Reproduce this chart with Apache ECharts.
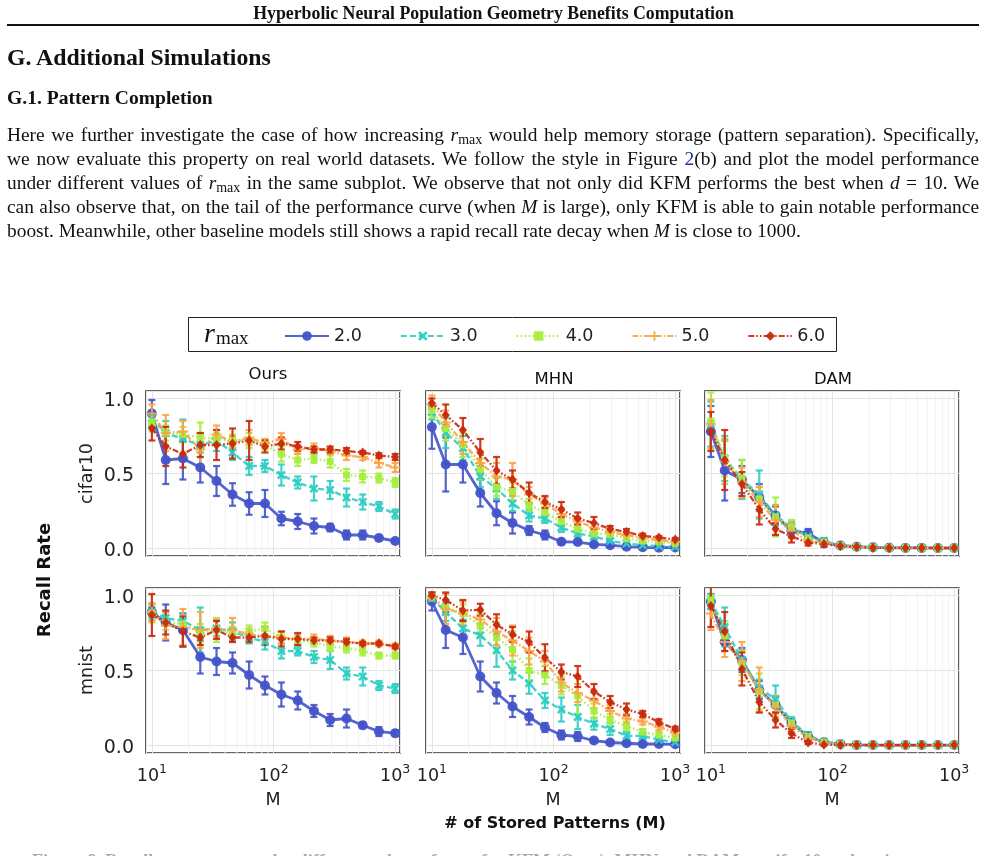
<!DOCTYPE html>
<html>
<head>
<meta charset="utf-8">
<script src="https://cdn.jsdelivr.net/npm/echarts@6/dist/echarts.min.js"></script>
<style>
  html, body { margin:0; padding:0; background:#fff; width:987px; height:856px; overflow:hidden; }
  #chart { position:absolute; left:0; top:0; width:987px; height:856px; }
  .t { position:absolute; font-family:"Liberation Serif","Times New Roman",serif; color:#111; z-index:2; }
  .hdr { left:0; width:987px; top:3px; text-align:center; font-weight:bold; font-size:17.8px; line-height:20px; }
  .rule { position:absolute; left:7px; width:972px; top:24px; height:2px; background:#111; z-index:2; }
  .h1 { left:7px; top:43px; font-weight:bold; font-size:23.8px; line-height:28px; }
  .h2 { left:7px; top:86px; font-weight:bold; font-size:19.6px; line-height:24px; }
  .p { left:7px; width:972px; font-size:19.4px; line-height:24px; text-align:justify; text-align-last:justify; }
  .p.last { text-align-last:left; }
  .p i { font-style:italic; }
  .p sub { font-size:0.72em; vertical-align:-0.25em; line-height:0; font-style:normal; }
  .blue { color:#1a2fa0; }
  .cap { left:32px; top:849px; font-size:18px; line-height:24px; color:#aaa; font-weight:bold; white-space:nowrap; }
</style>
</head>
<body>
<div class="t hdr">Hyperbolic Neural Population Geometry Benefits Computation</div>
<div class="rule"></div>
<div class="t h1">G. Additional Simulations</div>
<div class="t h2">G.1. Pattern Completion</div>
<div class="t p" style="top:123px">Here we further investigate the case of how increasing <i>r</i><sub>max</sub> would help memory storage (pattern separation). Specifically,</div>
<div class="t p" style="top:147px">we now evaluate this property on real world datasets. We follow the style in Figure <span class="blue">2</span>(b) and plot the model performance</div>
<div class="t p" style="top:171px">under different values of <i>r</i><sub>max</sub> in the same subplot. We observe that not only did KFM performs the best when <i>d</i> = 10. We</div>
<div class="t p" style="top:195px">can also observe that, on the tail of the performance curve (when <i>M</i> is large), only KFM is able to gain notable performance</div>
<div class="t p last" style="top:219px">boost. Meanwhile, other baseline models still shows a rapid recall rate decay when <i>M</i> is close to 1000.</div>
<div class="t cap">Figure 8. Recall rate curves under different values of r<sub>max</sub> for KFM (Ours), MHN and DAM on cifar10 and mnist.</div>
<div id="chart"></div>
<script>
// ---------------- data ----------------
const M = [10, 13, 18, 25, 34, 46, 63, 85, 116, 158, 215, 292, 398, 541, 735, 1000];
const rLabels = ['2.0', '3.0', '4.0', '5.0', '6.0'];
const modelTitles = ['Ours', 'MHN', 'DAM'];
const datasetNames = ['cifar10', 'mnist'];
const yTicks = [0.0, 0.5, 1.0];
const minorM = [20, 30, 40, 50, 60, 70, 80, 90, 200, 300, 400, 500, 600, 700, 800, 900];

// rows: r_max = 2.0, 3.0, 4.0, 5.0, 6.0
const oursCifar10 = [
  [0.90,0.59,0.60,0.54,0.45,0.36,0.30,0.30,0.20,0.18,0.15,0.14,0.09,0.09,0.07,0.05],
  [0.87,0.77,0.73,0.69,0.72,0.64,0.55,0.55,0.49,0.44,0.40,0.39,0.34,0.31,0.28,0.23],
  [0.84,0.77,0.76,0.74,0.73,0.72,0.72,0.69,0.63,0.59,0.60,0.58,0.49,0.48,0.47,0.44],
  [0.90,0.77,0.78,0.66,0.76,0.71,0.74,0.70,0.73,0.66,0.67,0.65,0.62,0.61,0.57,0.54],
  [0.80,0.68,0.63,0.69,0.69,0.70,0.72,0.68,0.70,0.68,0.66,0.66,0.65,0.64,0.62,0.61]
];
const oursCifar10Err = [
  [0.09,0.16,0.14,0.10,0.10,0.075,0.075,0.09,0.045,0.05,0.05,0.025,0.03,0.03,0.015,0.01],
  [0.05,0.08,0.13,0.08,0.07,0.05,0.06,0.04,0.07,0.04,0.08,0.06,0.06,0.05,0.03,0.03],
  [0.06,0.05,0.05,0.10,0.04,0.04,0.05,0.03,0.05,0.04,0.03,0.04,0.04,0.04,0.03,0.03],
  [0.06,0.12,0.07,0.10,0.06,0.04,0.05,0.03,0.04,0.03,0.03,0.02,0.03,0.02,0.03,0.03],
  [0.08,0.13,0.09,0.08,0.10,0.10,0.13,0.04,0.04,0.03,0.02,0.02,0.02,0.01,0.015,0.02]
];
const mhnCifar10 = [
  [0.81,0.56,0.56,0.37,0.235,0.17,0.12,0.09,0.045,0.043,0.027,0.022,0.012,0.008,0.005,0.007],
  [0.91,0.77,0.67,0.48,0.40,0.30,0.22,0.20,0.14,0.10,0.08,0.05,0.033,0.022,0.016,0.011],
  [0.92,0.80,0.69,0.53,0.41,0.38,0.29,0.24,0.18,0.13,0.10,0.096,0.067,0.051,0.044,0.033],
  [0.96,0.84,0.71,0.57,0.48,0.46,0.36,0.30,0.23,0.18,0.14,0.11,0.089,0.071,0.056,0.044],
  [0.97,0.89,0.79,0.64,0.52,0.46,0.37,0.31,0.26,0.20,0.17,0.13,0.11,0.084,0.073,0.06]
];
const mhnCifar10Err = [
  [0.145,0.18,0.12,0.09,0.08,0.07,0.03,0.03,0.015,0.01,0.01,0.01,0.01,0.01,0.01,0.01],
  [0.05,0.10,0.08,0.07,0.07,0.05,0.04,0.03,0.03,0.02,0.02,0.015,0.01,0.01,0.01,0.01],
  [0.05,0.08,0.08,0.07,0.06,0.06,0.04,0.04,0.03,0.03,0.02,0.02,0.015,0.01,0.01,0.01],
  [0.06,0.08,0.08,0.08,0.09,0.11,0.05,0.04,0.04,0.03,0.03,0.02,0.02,0.015,0.01,0.01],
  [0.03,0.07,0.08,0.09,0.09,0.06,0.07,0.04,0.05,0.04,0.04,0.02,0.02,0.015,0.01,0.01]
];
const damCifar10 = [
  [0.78,0.52,0.46,0.34,0.22,0.12,0.10,0.04,0.02,0.012,0.008,0.005,0.004,0.004,0.003,0.003],
  [0.83,0.60,0.46,0.36,0.22,0.14,0.08,0.05,0.02,0.012,0.008,0.005,0.004,0.004,0.003,0.003],
  [0.85,0.60,0.47,0.33,0.21,0.14,0.07,0.04,0.02,0.012,0.008,0.005,0.004,0.004,0.003,0.003],
  [0.83,0.58,0.44,0.31,0.19,0.12,0.05,0.04,0.02,0.010,0.006,0.005,0.004,0.004,0.003,0.003],
  [0.78,0.59,0.43,0.26,0.13,0.08,0.04,0.03,0.016,0.011,0.005,0.004,0.004,0.004,0.004,0.004]
];
const damCifar10Err = [
  [0.17,0.20,0.09,0.09,0.06,0.05,0.03,0.02,0.01,0.005,0.005,0.003,0.003,0.003,0.003,0.003],
  [0.15,0.15,0.13,0.16,0.07,0.04,0.02,0.02,0.01,0.005,0.005,0.003,0.003,0.003,0.003,0.003],
  [0.19,0.12,0.12,0.08,0.13,0.05,0.03,0.02,0.01,0.005,0.005,0.003,0.003,0.003,0.003,0.003],
  [0.16,0.15,0.10,0.10,0.10,0.05,0.02,0.02,0.01,0.005,0.005,0.003,0.003,0.003,0.003,0.003],
  [0.13,0.20,0.08,0.10,0.04,0.04,0.02,0.02,0.01,0.005,0.005,0.003,0.003,0.003,0.003,0.003]
];
const oursMnist = [
  [0.89,0.82,0.77,0.59,0.56,0.55,0.47,0.40,0.34,0.30,0.23,0.17,0.18,0.135,0.093,0.082],
  [0.89,0.85,0.83,0.77,0.78,0.76,0.72,0.69,0.63,0.63,0.59,0.57,0.48,0.46,0.40,0.38],
  [0.88,0.82,0.81,0.75,0.77,0.75,0.76,0.78,0.72,0.70,0.69,0.66,0.65,0.63,0.60,0.60],
  [0.89,0.80,0.79,0.77,0.78,0.77,0.74,0.73,0.72,0.71,0.71,0.70,0.69,0.68,0.68,0.66],
  [0.87,0.82,0.76,0.72,0.77,0.72,0.72,0.73,0.71,0.71,0.70,0.70,0.69,0.68,0.68,0.66]
];
const oursMnistErr = [
  [0.03,0.12,0.11,0.11,0.09,0.07,0.09,0.06,0.08,0.06,0.04,0.04,0.06,0.02,0.03,0.02],
  [0.05,0.04,0.05,0.15,0.05,0.06,0.04,0.05,0.05,0.03,0.04,0.06,0.04,0.06,0.03,0.03],
  [0.06,0.05,0.05,0.06,0.08,0.04,0.04,0.04,0.04,0.03,0.03,0.03,0.03,0.03,0.02,0.02],
  [0.06,0.09,0.12,0.12,0.06,0.08,0.04,0.04,0.04,0.03,0.03,0.03,0.03,0.02,0.02,0.02],
  [0.14,0.08,0.10,0.05,0.06,0.03,0.03,0.06,0.05,0.04,0.02,0.02,0.02,0.01,0.01,0.01]
];
const mhnMnist = [
  [0.96,0.77,0.72,0.46,0.35,0.26,0.19,0.12,0.07,0.06,0.033,0.02,0.015,0.01,0.01,0.008],
  [0.98,0.89,0.78,0.735,0.635,0.50,0.415,0.30,0.24,0.19,0.145,0.11,0.065,0.064,0.038,0.022],
  [0.99,0.92,0.88,0.80,0.72,0.64,0.50,0.47,0.40,0.33,0.23,0.17,0.13,0.09,0.07,0.05],
  [0.99,0.91,0.88,0.84,0.76,0.70,0.63,0.56,0.42,0.35,0.30,0.23,0.18,0.16,0.125,0.085],
  [1.00,0.97,0.90,0.905,0.805,0.74,0.69,0.585,0.49,0.46,0.36,0.29,0.24,0.21,0.155,0.11]
];
const mhnMnistErr = [
  [0.06,0.12,0.11,0.10,0.07,0.07,0.05,0.03,0.03,0.03,0.015,0.01,0.01,0.01,0.005,0.005],
  [0.03,0.06,0.06,0.07,0.11,0.06,0.07,0.05,0.08,0.08,0.04,0.04,0.03,0.02,0.02,0.015],
  [0.03,0.05,0.06,0.08,0.10,0.12,0.08,0.06,0.06,0.12,0.05,0.04,0.03,0.02,0.02,0.015],
  [0.03,0.10,0.08,0.06,0.09,0.10,0.09,0.07,0.06,0.06,0.05,0.04,0.03,0.02,0.02,0.015],
  [0.02,0.05,0.07,0.04,0.07,0.05,0.07,0.09,0.05,0.07,0.05,0.04,0.04,0.02,0.02,0.015]
];
const damMnist = [
  [0.96,0.69,0.57,0.37,0.27,0.15,0.06,0.022,0.009,0.004,0.003,0.003,0.003,0.003,0.003,0.003],
  [0.96,0.79,0.57,0.38,0.31,0.16,0.07,0.025,0.010,0.005,0.003,0.003,0.003,0.003,0.003,0.003],
  [0.97,0.73,0.55,0.36,0.27,0.15,0.06,0.020,0.008,0.004,0.003,0.003,0.003,0.003,0.003,0.003],
  [0.88,0.69,0.56,0.37,0.26,0.13,0.05,0.020,0.007,0.004,0.003,0.003,0.003,0.003,0.003,0.003],
  [0.93,0.76,0.51,0.29,0.17,0.08,0.02,0.005,0.003,0.003,0.003,0.003,0.003,0.003,0.003,0.003]
];
const damMnistErr = [
  [0.05,0.06,0.08,0.06,0.05,0.03,0.02,0.01,0.005,0.003,0.003,0.003,0.003,0.003,0.003,0.003],
  [0.05,0.13,0.07,0.06,0.09,0.03,0.02,0.01,0.005,0.003,0.003,0.003,0.003,0.003,0.003,0.003],
  [0.03,0.10,0.08,0.12,0.06,0.03,0.02,0.01,0.005,0.003,0.003,0.003,0.003,0.003,0.003,0.003],
  [0.11,0.10,0.13,0.15,0.07,0.04,0.02,0.01,0.005,0.003,0.003,0.003,0.003,0.003,0.003,0.003],
  [0.14,0.13,0.11,0.07,0.05,0.03,0.01,0.005,0.003,0.003,0.003,0.003,0.003,0.003,0.003,0.003]
];

// ---------------- layout & styles ----------------
const panels = [
  [oursCifar10, oursCifar10Err], [mhnCifar10, mhnCifar10Err], [damCifar10, damCifar10Err],
  [oursMnist, oursMnistErr], [mhnMnist, mhnMnistErr], [damMnist, damMnistErr]
];
const gridLefts = [146, 426, 705];
const gridTops = [391, 588];
const gridW = 254, gridH = 165;
const Y_MIN = -0.05, Y_MAX = 1.05;
const FONT = 'DejaVu Sans';
const xPath = 'path://M0,2 L2,0 L5,3 L8,0 L10,2 L7,5 L10,8 L8,10 L5,7 L2,10 L0,8 L3,5 Z';
const plusPath = 'path://M4,0 L6,0 L6,4 L10,4 L10,6 L6,6 L6,10 L4,10 L4,6 L0,6 L0,4 L4,4 Z';
const styles = [
  { color: '#4353c9', dash: 'solid', symbol: 'circle', size: 10, width: 2.8 },
  { color: '#2ecdc3', dash: [6, 3], symbol: xPath, size: 9, width: 2.3 },
  { color: '#a5ee3c', dash: [1.6, 2.4], symbol: 'rect', size: 7, width: 2.3 },
  { color: '#fca443', dash: [6, 2, 1.6, 2], symbol: plusPath, size: 10, width: 2.3 },
  { color: '#c9290d', dash: [6, 2, 1.6, 2, 1.6, 2], symbol: 'diamond', size: [8, 10], width: 2.3 }
];

function makeErr(color) {
  return function (params, api) {
    const x = api.value(0), y = api.value(1), e = api.value(2);
    const top = api.coord([x, y + e]);
    const bot = api.coord([x, y - e]);
    const cap = 3.5;
    const st = { stroke: color, lineWidth: 2.2, opacity: 0.9 };
    return {
      type: 'group',
      children: [
        { type: 'line', shape: { x1: top[0], y1: top[1], x2: bot[0], y2: bot[1] }, style: st },
        { type: 'line', shape: { x1: top[0] - cap, y1: top[1], x2: top[0] + cap, y2: top[1] }, style: st },
        { type: 'line', shape: { x1: bot[0] - cap, y1: bot[1], x2: bot[0] + cap, y2: bot[1] }, style: st }
      ]
    };
  };
}
function minorGrid(params, api) {
  const x = api.value(0);
  const a = api.coord([x, Y_MIN]);
  const b = api.coord([x, Y_MAX]);
  return { type: 'line', shape: { x1: a[0], y1: a[1], x2: b[0], y2: b[1] },
    style: { stroke: '#f2f2f2', lineWidth: 1 } };
}

const grids = [], xAxes = [], yAxes = [], series = [];
for (let r = 0; r < 2; r++) {
  for (let c = 0; c < 3; c++) {
    const g = r * 3 + c;
    grids.push({ left: gridLefts[c], top: gridTops[r], width: gridW, height: gridH,
      show: true, borderColor: '#333', borderWidth: 1.6, backgroundColor: 'transparent' });
    xAxes.push({
      gridIndex: g, type: 'log', logBase: 10, min: 8.95, max: 1095,
      axisLine: { show: false }, axisTick: { show: false }, minorTick: { show: false },
      splitLine: { show: true, lineStyle: { color: '#e4e4e4', width: 1 } },
      axisLabel: {
        show: r === 1, margin: 10, color: '#222',
        formatter: function (v) {
          const e = Math.log10(v);
          if (Math.abs(e - Math.round(e)) > 1e-6) return '';
          return '{b|10}{s|' + Math.round(e) + '}';
        },
        rich: {
          b: { fontFamily: FONT, fontSize: 17.5, color: '#222', verticalAlign: 'bottom', lineHeight: 22 },
          s: { fontFamily: FONT, fontSize: 12.5, color: '#222', verticalAlign: 'top', lineHeight: 22 }
        }
      },
      name: r === 1 ? 'M' : '', nameLocation: 'middle', nameGap: 38,
      nameTextStyle: { fontFamily: FONT, fontSize: 17.5, color: '#222' }
    });
    yAxes.push({
      gridIndex: g, type: 'value', min: Y_MIN, max: Y_MAX, splitNumber: 2,
      axisLine: { show: false }, axisTick: { show: false },
      splitLine: { show: true, lineStyle: { color: '#e4e4e4', width: 1 } },
      axisLabel: {
        show: c === 0, margin: 12, color: '#222',
        formatter: function (v) {
          for (const t of yTicks) if (Math.abs(v - t) < 1e-6) return '{v|' + t.toFixed(1) + '}';
          return '';
        },
        rich: { v: { fontFamily: FONT, fontSize: 19, color: '#222', padding: [6, 0, 0, 0] } }
      },
      name: c === 0 ? datasetNames[r] : '', nameLocation: 'middle', nameGap: 50,
      nameTextStyle: { fontFamily: FONT, fontSize: 17.5, color: '#222' }
    });
    // faint minor grid lines
    series.push({
      type: 'custom', name: 'minor', xAxisIndex: g, yAxisIndex: g, silent: true, z: 1,
      renderItem: minorGrid, encode: { x: 0 }, data: minorM.map(v => [v, 0.5])
    });
    const [means, errs] = panels[g];
    for (let k = 0; k < 5; k++) {
      const s = styles[k];
      series.push({
        type: 'custom', name: 'err' + k, xAxisIndex: g, yAxisIndex: g, z: 2, silent: true, clip: true,
        renderItem: makeErr(s.color),
        encode: { x: 0, y: 1 },
        data: M.map((m, j) => [m, means[k][j], errs[k][j]])
      });
      series.push({
        type: 'line', name: rLabels[k], xAxisIndex: g, yAxisIndex: g, z: 2,
        data: M.map((m, j) => [m, means[k][j]]),
        symbol: s.symbol, symbolSize: s.size, showSymbol: true,
        lineStyle: { color: s.color, width: s.width, type: s.dash, opacity: 0.9 },
        itemStyle: { color: s.color, opacity: 0.95 },
        emphasis: { disabled: true }
      });
    }
  }
}

const chart = echarts.init(document.getElementById('chart'), null, { renderer: 'canvas' });
chart.setOption({
  animation: false,
  backgroundColor: 'transparent',
  grid: grids, xAxis: xAxes, yAxis: yAxes, series: series,
  legend: {
    data: rLabels, left: 279, top: 322, itemWidth: 44, itemHeight: 12, itemGap: 38,
    textStyle: { fontFamily: FONT, fontSize: 17.5, color: '#222' },
    selectedMode: false
  },
  graphic: [
    { type: 'rect', z: 0, shape: { x: 188.5, y: 317.5, width: 648, height: 34 },
      style: { fill: '#fff', stroke: '#222', lineWidth: 1 } },
    { type: 'text', z: 10, x: 204, y: 334,
      style: { text: '{r|r}{m|max}', textVerticalAlign: 'middle',
        rich: { r: { fontFamily: 'Liberation Serif', fontStyle: 'italic', fontSize: 28, fill: '#111', verticalAlign: 'bottom', lineHeight: 30 },
                m: { fontFamily: 'Liberation Serif', fontSize: 19, fill: '#111', verticalAlign: 'bottom', lineHeight: 22, padding: [0, 0, 0, 1] } } } },
    { type: 'text', x: 268, y: 375, style: { text: modelTitles[0], textAlign: 'center', textVerticalAlign: 'middle', font: '16.5px "DejaVu Sans"', fill: '#111' } },
    { type: 'text', x: 554, y: 380, style: { text: modelTitles[1], textAlign: 'center', textVerticalAlign: 'middle', font: '16.5px "DejaVu Sans"', fill: '#111' } },
    { type: 'text', x: 833, y: 380, style: { text: modelTitles[2], textAlign: 'center', textVerticalAlign: 'middle', font: '16.5px "DejaVu Sans"', fill: '#111' } },
    { type: 'text', x: 45, y: 580, rotation: Math.PI / 2,
      style: { text: 'Recall Rate', textAlign: 'center', textVerticalAlign: 'middle', font: 'bold 18px "DejaVu Sans"', fill: '#111' } },
    { type: 'text', x: 555, y: 824,
      style: { text: '# of Stored Patterns (M)', textAlign: 'center', textVerticalAlign: 'middle', font: 'bold 16px "DejaVu Sans"', fill: '#111' } }
  ]
});
</script>
</body>
</html>
